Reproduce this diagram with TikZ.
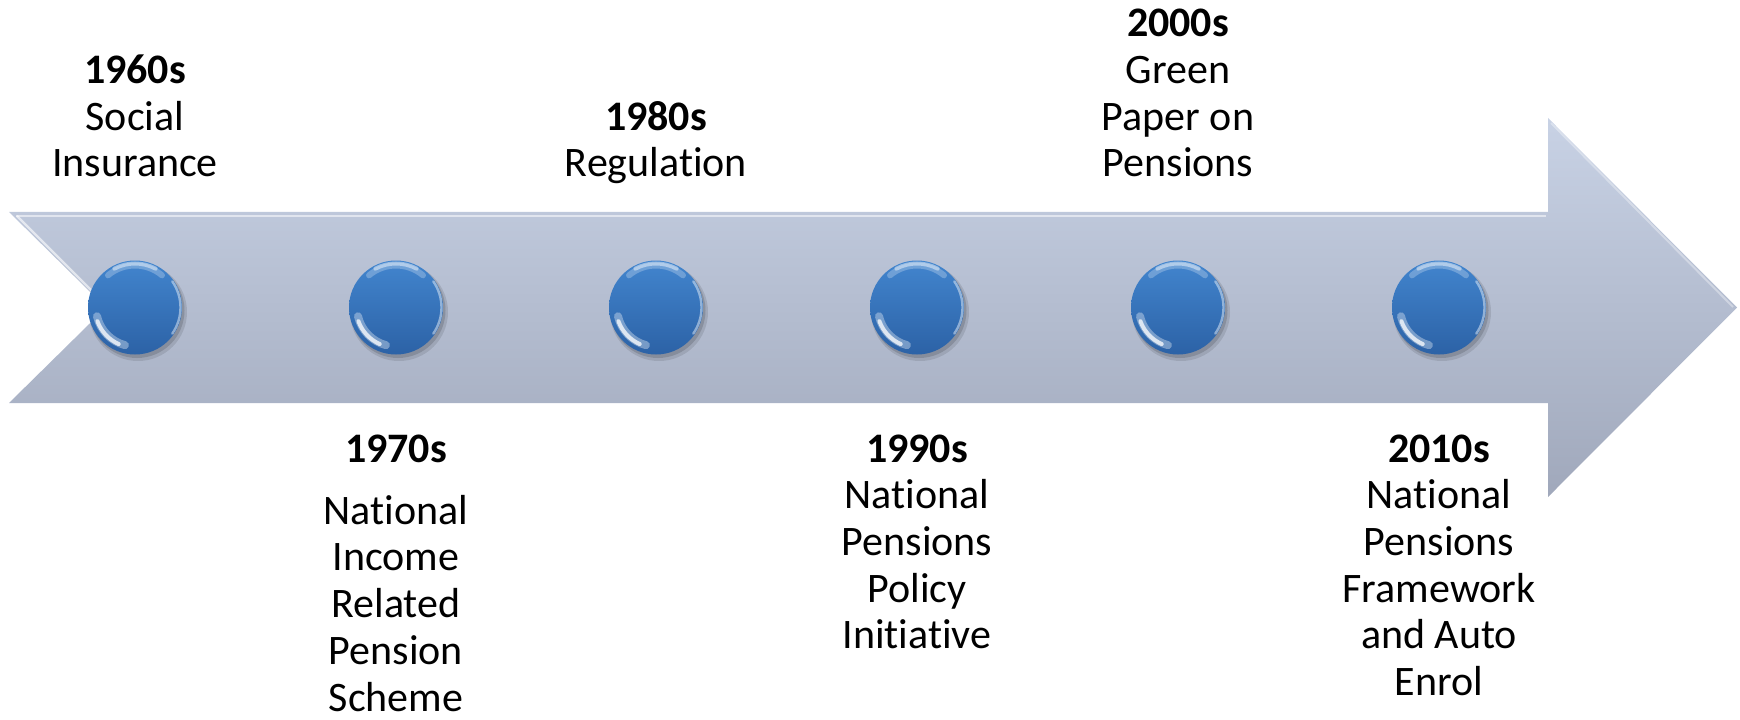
\documentclass[tikz,border=0pt]{standalone}
\usepackage{fontspec}
\setmainfont[Ligatures=NoCommon]{Carlito}
\definecolor{arrowtop}{RGB}{200,210,229}
\definecolor{arrowbot}{RGB}{160,168,187}
\definecolor{balltop}{RGB}{66,133,206}
\definecolor{ballbot}{RGB}{44,98,166}
\tikzset{
  lbl/.style={anchor=base, inner sep=0pt, font=\fontsize{21}{23.35}\selectfont},
  ball/.style={circle, inner sep=0pt, minimum size=47pt, top color=balltop, bottom color=ballbot},
}
\newcommand{\ballhl}[1]{%
  \begin{scope}
    \clip (#1) circle (47);
    \draw[white, opacity=0.45, line width=2pt, line cap=round] ([shift={(62:44)}]#1) arc (62:118:44);
    \draw[white, opacity=0.25, line width=3pt, line cap=round] ([shift={(50:42)}]#1) arc (50:130:42);
    \draw[white, opacity=0.45, line width=1.2pt, line cap=round] ([shift={(-35:45.5)}]#1) arc (-35:35:45.5);
    \draw[white, opacity=0.35, line width=4pt, line cap=round] ([shift={(193:39)}]#1) arc (193:255:39);
    \draw[white, opacity=0.75, line width=2pt, line cap=round] ([shift={(200:40)}]#1) arc (200:246:40);
  \end{scope}}
\begin{document}
\begin{tikzpicture}[x=0.5pt,y=0.5pt]
\useasboundingbox (0,0) rectangle (1740,719);
% arrow body
\shade[top color=arrowtop, bottom color=arrowbot]
  (9,507) -- (1548,507) -- (1548,601) -- (1737,411.5) -- (1548,222) -- (1548,316) -- (9,316) -- (106,411.5) -- cycle;
\draw[white, opacity=0.55, line width=1.2pt] (16,503) -- (1546,503);
\draw[white, opacity=0.6, line width=1.2pt] (17,503) -- (103,417);
\draw[white, opacity=0.35, line width=1pt] (1551,596) -- (1733,412);
% balls
\foreach \i/\x in {1/135,2/396,3/656,4/917,5/1178,6/1439}{
  \coordinate (c\i) at (\x,411.5);
  \fill[black, opacity=0.10] (\x+3,407) circle (49);
  \fill[black, opacity=0.14] (\x+2,408.5) circle (47.5);
  \node[ball] (b\i) at (c\i) {};
  \ballhl{c\i}
}
% labels above
\node[lbl] (t1960) at (135,542) {\begin{tabular}[b]{@{}c@{}}\textbf{1960s}\\Social\\Insurance\end{tabular}};
\node[lbl] (t1980) at (656,542) {\begin{tabular}[b]{@{}c@{}}\textbf{1980s}\\Regulation\end{tabular}};
\node[lbl] (t2000) at (1178,542) {\begin{tabular}[b]{@{}c@{}}\textbf{2000s}\\Green\\Paper on\\Pensions\end{tabular}};
% labels below
\node[lbl] (t1970) at (396,257) {\begin{tabular}[t]{@{}c@{}}\textbf{1970s}\\[7.75pt]National\\Income\\Related\\Pension\\Scheme\end{tabular}};
\node[lbl] (t1990) at (917,257) {\begin{tabular}[t]{@{}c@{}}\textbf{1990s}\\National\\Pensions\\Policy\\Initiative\end{tabular}};
\node[lbl] (t2010) at (1439,257) {\begin{tabular}[t]{@{}c@{}}\textbf{2010s}\\National\\Pensions\\Framework\\and Auto\\Enrol\end{tabular}};
\end{tikzpicture}
\end{document}
